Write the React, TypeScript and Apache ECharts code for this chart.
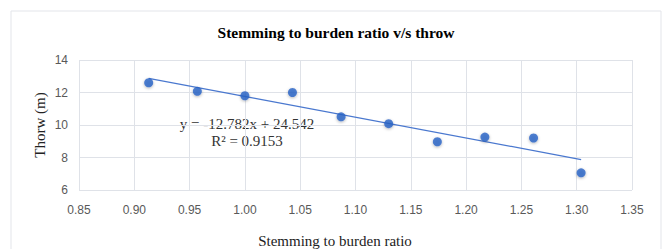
import React, { useEffect, useRef } from "react";
import * as echarts from "echarts";

const ratioX = [0.913, 0.957, 1.0, 1.043, 1.087, 1.13, 1.174, 1.217, 1.261, 1.304];
const throwY = [12.6, 12.07, 11.8, 12.0, 10.5, 10.08, 8.97, 9.26, 9.2, 7.06];
const slope = -12.782;
const intercept = 24.542;
const equationText = "y = -12.782x + 24.542";
const r2Text = "R² = 0.9153";
const titleText = "Stemming to burden ratio v/s throw";
const xName = "Stemming to burden ratio";
const yName = "Thorw (m)";

export default function App() {
  const ref = useRef<HTMLDivElement>(null);
  useEffect(() => {
    if (!ref.current) return;
    const chart = echarts.init(ref.current, null, { renderer: "svg" });
    const x0 = ratioX[0];
    const x1 = ratioX[ratioX.length - 1];
    const trend = [
      [x0, slope * x0 + intercept],
      [x1, slope * x1 + intercept],
    ];
    const serif = "Liberation Serif";
    chart.setOption({
      animation: false,
      backgroundColor: "#ffffff",
      grid: { left: 79, right: 33, top: 60, bottom: 59 },
      xAxis: {
        type: "value",
        min: 0.85,
        max: 1.35,
        interval: 0.05,
        axisLine: { show: false },
        axisTick: { show: false },
        splitLine: { show: true, lineStyle: { color: "#dfe2e8", width: 1 } },
        axisLabel: {
          color: "#595959",
          fontFamily: "Liberation Sans",
          fontSize: 12,
          margin: 14,
          formatter: (v: number) => v.toFixed(2),
        },
      },
      yAxis: {
        type: "value",
        min: 6,
        max: 14,
        interval: 2,
        axisLine: { show: false },
        axisTick: { show: false },
        splitLine: { show: true, lineStyle: { color: "#dfe2e8", width: 1 } },
        axisLabel: {
          color: "#595959",
          fontFamily: "Liberation Sans",
          fontSize: 12,
          margin: 11,
        },
      },
      graphic: [
        {
          type: "rect",
          shape: { x: 11, y: 11, width: 650, height: 250 },
          style: { fill: "none", stroke: "#e3e5ea", lineWidth: 1 },
          z: -1,
        },
        {
          type: "text",
          x: 336,
          y: 32,
          style: {
            text: titleText,
            fontFamily: serif,
            fontWeight: "bold",
            fontSize: 15.5,
            fill: "#000000",
            align: "center",
            verticalAlign: "middle",
          },
        },
        {
          type: "text",
          x: 335,
          y: 241,
          style: {
            text: xName,
            fontFamily: serif,
            fontSize: 15,
            fill: "#222222",
            align: "center",
            verticalAlign: "middle",
          },
        },
        {
          type: "text",
          x: 40,
          y: 125,
          rotation: Math.PI / 2,
          style: {
            text: yName,
            fontFamily: serif,
            fontSize: 15,
            fill: "#222222",
            align: "center",
            verticalAlign: "middle",
          },
        },
        {
          type: "text",
          x: 247,
          y: 124,
          style: {
            text: equationText,
            fontFamily: serif,
            fontSize: 15,
            fill: "#333333",
            align: "center",
            verticalAlign: "middle",
          },
        },
        {
          type: "text",
          x: 247,
          y: 141,
          style: {
            text: r2Text,
            fontFamily: serif,
            fontSize: 15,
            fill: "#333333",
            align: "center",
            verticalAlign: "middle",
          },
        },
      ],
      series: [
        {
          type: "line",
          data: trend,
          symbol: "none",
          lineStyle: { color: "#4a78cf", width: 1.2 },
          z: 2,
        },
        {
          type: "scatter",
          data: ratioX.map((x, i) => [x, throwY[i]]),
          symbolSize: 9,
          itemStyle: {
            color: "#2862c6",
            shadowBlur: 3,
            shadowColor: "rgba(0,0,0,0.35)",
            shadowOffsetY: 1,
          },
          z: 3,
        },
      ],
    });
    return () => chart.dispose();
  }, []);
  return (
    <div
      ref={ref}
      style={{ position: "fixed", left: 0, top: 0, width: 665, height: 249 }}
    />
  );
}
